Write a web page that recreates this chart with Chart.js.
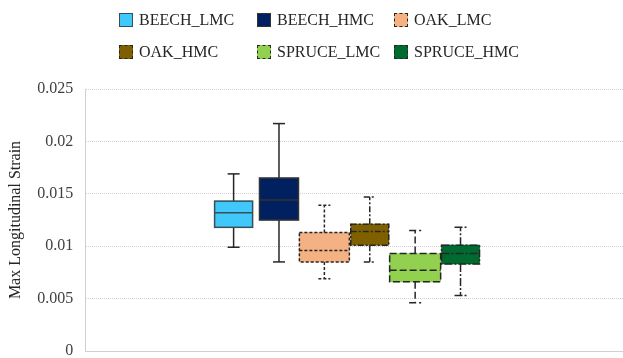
<!DOCTYPE html>
<html>
<head>
<meta charset="utf-8">
<script src="https://cdn.jsdelivr.net/npm/chart.js@4/dist/chart.umd.min.js"></script>
<style>
  body { margin: 0; background: #fff; }
  #wrap { position: relative; width: 623px; height: 358px; overflow: hidden; }
  #chart { position: absolute; left: 0; top: 0; }
  .legend-item {
    position: absolute;
    display: flex;
    align-items: center;
    font: 16px "Liberation Serif", "Times New Roman", serif;
    color: #262626;
    white-space: nowrap;
  }
  .swatch { width: 12px; height: 12px; margin-right: 6px; }
</style>
</head>
<body>
<div id="wrap">
  <canvas id="chart" width="623" height="380"></canvas>
  <div id="legend"></div>
</div>
<script>
const series = ["BEECH_LMC", "BEECH_HMC", "OAK_LMC", "OAK_HMC", "SPRUCE_LMC", "SPRUCE_HMC"];
const whiskerLow = [0.0099, 0.0085, 0.0069, 0.0085, 0.0046, 0.0053];
const quartile1 = [0.0118, 0.0125, 0.0085, 0.0101, 0.0066, 0.0083];
const medians = [0.0132, 0.0144, 0.0096, 0.0114, 0.0077, 0.0093];
const quartile3 = [0.0143, 0.0165, 0.0113, 0.0121, 0.0093, 0.0101];
const whiskerHigh = [0.0169, 0.0217, 0.0139, 0.0147, 0.0115, 0.0118];
const yTicks = [0, 0.005, 0.01, 0.015, 0.02, 0.025];

// look of each box
const fills = ["#41C8FA", "#002060", "#F4B183", "#7F6000", "#92D050", "#006B30"];
const outlines = ["#3a4e58", "#333333", "#262626", "#262626", "#262626", "#262626"];
const dashes = [[], [], [3, 2], [6, 2, 2, 2], [7, 3], [8, 2, 2, 2]];
const boxWidths = [38, 39, 50, 38, 51, 38];

const capHalf = 6;

const boxPlotLines = {
  id: "boxPlotLines",
  afterDatasetsDraw(chart) {
    const ctx = chart.ctx;
    const yScale = chart.scales.y;
    const line = (x1, y1, x2, y2) => {
      ctx.beginPath();
      ctx.moveTo(x1, y1);
      ctx.lineTo(x2, y2);
      ctx.stroke();
    };
    series.forEach((name, i) => {
      const bar = chart.getDatasetMeta(i).data[0];
      if (!bar) return;
      const x = bar.x;
      const half = bar.width / 2;
      const pLow = yScale.getPixelForValue(whiskerLow[i]);
      const pQ1 = yScale.getPixelForValue(quartile1[i]);
      const pMed = yScale.getPixelForValue(medians[i]);
      const pQ3 = yScale.getPixelForValue(quartile3[i]);
      const pHigh = yScale.getPixelForValue(whiskerHigh[i]);

      ctx.save();
      ctx.lineWidth = 1.5;
      ctx.setLineDash(dashes[i]);
      ctx.strokeStyle = "#262626";
      line(x, pQ3, x, pHigh);
      line(x - capHalf, pHigh, x + capHalf, pHigh);
      line(x, pQ1, x, pLow);
      line(x - capHalf, pLow, x + capHalf, pLow);

      ctx.strokeStyle = outlines[i];
      ctx.strokeRect(x - half, pQ3, 2 * half, pQ1 - pQ3);
      line(x - half, pMed, x + half, pMed);
      ctx.restore();
    });
  },
};

const datasets = series.map((name, i) => ({
  label: name,
  data: [{ x: i + 1, y: [quartile1[i], quartile3[i]] }],
  backgroundColor: fills[i],
  borderWidth: 0,
  barThickness: boxWidths[i],
  grouped: false,
}));

const chart = new Chart(document.getElementById("chart").getContext("2d"), {
  type: "bar",
  data: { datasets },
  options: {
    responsive: false,
    animation: false,
    devicePixelRatio: 1,
    layout: { padding: { top: 89, left: 0, right: 0, bottom: 29 } },
    plugins: {
      legend: { display: false },
      tooltip: { enabled: false },
    },
    scales: {
      x: {
        type: "linear",
        offset: false,
        min: -2.27,
        max: 9.58,
        grid: { display: false, drawTicks: false, offset: false },
        ticks: { display: false },
        border: { display: true, color: "#d0d0d0", width: 1 },
      },
      y: {
        min: 0,
        max: 0.025,
        afterBuildTicks: (scale) => {
          scale.ticks = yTicks.map((v) => ({ value: v }));
        },
        grid: { color: "#cfcfcf", lineWidth: 1, drawTicks: false },
        border: { display: true, color: "#d0d0d0", width: 1, dash: [1, 1] },
        ticks: {
          padding: 12,
          color: "#404040",
          font: { family: "Liberation Serif", size: 16 },
          callback: (v) => String(+Number(v).toFixed(3)),
        },
        title: {
          display: true,
          text: "Max Longitudinal Strain",
          color: "#262626",
          font: { family: "Liberation Serif", size: 16 },
          padding: { top: 6, bottom: 0 },
        },
      },
    },
  },
  plugins: [boxPlotLines],
});

// legend laid out in three columns
const legendEl = document.getElementById("legend");
const legendCols = [119, 257, 394];
const legendRows = [11, 43];
series.forEach((name, i) => {
  const item = document.createElement("div");
  item.className = "legend-item";
  item.style.left = legendCols[i % 3] + "px";
  item.style.top = legendRows[Math.floor(i / 3)] + "px";
  const sw = document.createElement("span");
  sw.className = "swatch";
  sw.style.background = fills[i];
  const style = dashes[i].length ? "dashed" : "solid";
  sw.style.border = "1px " + style + " " + outlines[i];
  item.appendChild(sw);
  const text = document.createElement("span");
  text.textContent = name;
  item.appendChild(text);
  legendEl.appendChild(item);
});
</script>
</body>
</html>
